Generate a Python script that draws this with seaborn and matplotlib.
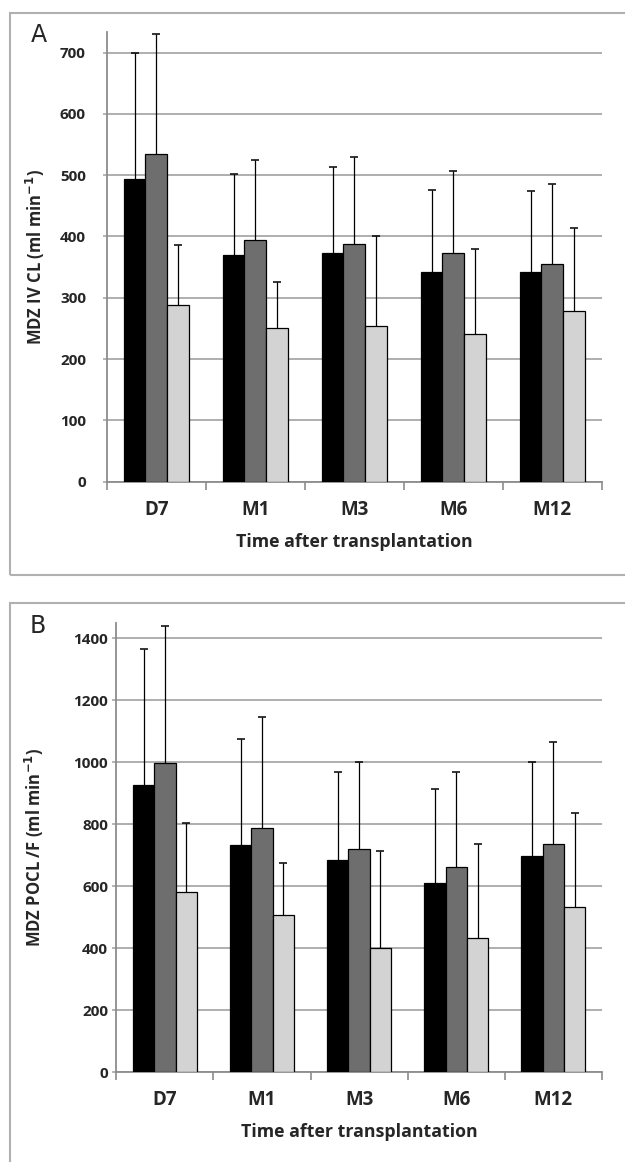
import numpy as np
import pandas as pd
import seaborn as sns
import matplotlib
matplotlib.use('Agg')
import matplotlib.pyplot as plt
from matplotlib.patches import Rectangle

times = ['D7', 'M1', 'M3', 'M6', 'M12']
groups = ['group 1', 'group 2', 'group 3']
colors = ['#000000', '#6e6e6e', '#d3d3d3']

# panel A: MDZ IV CL, mean and upper SD
iv_g1 = [494, 369, 373, 342, 342]
iv_g2 = [534, 395, 388, 373, 355]
iv_g3 = [289, 250, 254, 241, 278]
iv_sd1 = [205, 133, 140, 134, 132]
iv_sd2 = [197, 129, 141, 134, 130]
iv_sd3 = [97, 76, 147, 139, 136]

# panel B: MDZ PO CL/F, mean and upper SD
po_g1 = [927, 733, 685, 611, 699]
po_g2 = [998, 788, 719, 663, 737]
po_g3 = [581, 506, 401, 432, 532]
po_sd1 = [439, 342, 285, 303, 301]
po_sd2 = [441, 357, 281, 307, 329]
po_sd3 = [224, 170, 313, 305, 305]

sns.set_style('white')
plt.rcParams['font.family'] = ['Open Sans', 'DejaVu Sans']

W, H = 625, 1162
fig = plt.figure(figsize=(6.25, 11.62), dpi=100)

gridc = '#a8a8a8'


def panel(rect, means, sds, ymax, ystep, ylabel, tickpad, labx):
    ax = fig.add_axes(rect)
    df = pd.DataFrame({
        'time': times * 3,
        'group': np.repeat(groups, len(times)),
        'value': np.concatenate(means),
    })
    sns.barplot(data=df, x='time', y='value', hue='group', order=times,
                hue_order=groups, palette=colors, width=0.66, errorbar=None,
                edgecolor='black', linewidth=0.9, saturation=1, legend=False,
                ax=ax, zorder=3)
    # upper-only error bars at the centre of each bar
    bars = ax.patches
    for gi, (m, s) in enumerate(zip(means, sds)):
        for ti in range(len(times)):
            p = bars[gi * len(times) + ti]
            xc = p.get_x() + p.get_width() / 2
            eb = ax.errorbar(xc, m[ti], yerr=[[0], [s[ti]]], fmt='none',
                             ecolor='black', elinewidth=0.9, capsize=3,
                             capthick=1.1, zorder=4)
            eb[1][0].set_visible(False)
    ax.set_xlim(-0.5, len(times) - 0.5)
    ax.set_ylim(0, ymax)
    ax.set_yticks(np.arange(0, ymax, ystep))
    ax.yaxis.grid(True, color=gridc, linewidth=1.3, zorder=0)
    ax.set_axisbelow(True)
    for sp in ['top', 'right']:
        ax.spines[sp].set_visible(False)
    for sp in ['left', 'bottom']:
        ax.spines[sp].set_color('#8c8c8c')
        ax.spines[sp].set_linewidth(1.3)
    ax.set_xticks(np.arange(-0.5, len(times)), minor=True)
    ax.tick_params(axis='x', which='minor', length=6, width=1.2,
                   color='#8c8c8c', bottom=True)
    ax.tick_params(axis='x', which='major', length=0, pad=13, labelsize=13.5)
    ax.tick_params(axis='y', length=3, width=1.2, color=gridc, left=True,
                   pad=tickpad, labelsize=11)
    for t in ax.get_xticklabels() + ax.get_yticklabels():
        t.set_fontweight('bold')
    ax.set_xlabel('Time after transplantation', fontsize=12.8,
                  fontweight='bold')
    ax.xaxis.set_label_coords(0.5, -0.113)
    ax.set_ylabel(ylabel, fontsize=12, fontweight='bold')
    ax.yaxis.set_label_coords(labx, 0.5)
    return ax


# panel A
ax1 = panel([106.8 / W, 1 - 481.7 / H, (601.8 - 106.8) / W, 450 / H],
            [iv_g1, iv_g2, iv_g3], [iv_sd1, iv_sd2, iv_sd3], 734, 100,
            'MDZ IV CL (ml min$^{\\mathbf{-1}}$)', 12, -0.12)

# panel B
ax2 = panel([116.4 / W, 1 - 1072.3 / H, (601.8 - 116.4) / W, 449.6 / H],
            [po_g1, po_g2, po_g3], [po_sd1, po_sd2, po_sd3], 1450, 200,
            'MDZ POCL /F (ml min$^{\\mathbf{-1}}$)', 3, -0.145)

# panel frames
framec = '#b0b0b0'
fig.patches.append(Rectangle((10 / W, 1 - 575 / H), 1.0, (575 - 13) / H,
                             transform=fig.transFigure, fill=False,
                             edgecolor=framec, linewidth=1.5))
fig.patches.append(Rectangle((10 / W, -0.05), 1.0, 0.05 + (1 - 603 / H),
                             transform=fig.transFigure, fill=False,
                             edgecolor=framec, linewidth=1.5))

fig.text(31 / W, 1 - 42 / H, 'A', fontsize=17, family='DejaVu Sans',
         va='baseline')
fig.text(30 / W, 1 - 633 / H, 'B', fontsize=17, family='DejaVu Sans',
         va='baseline')

fig.savefig('out.png', dpi=100)
